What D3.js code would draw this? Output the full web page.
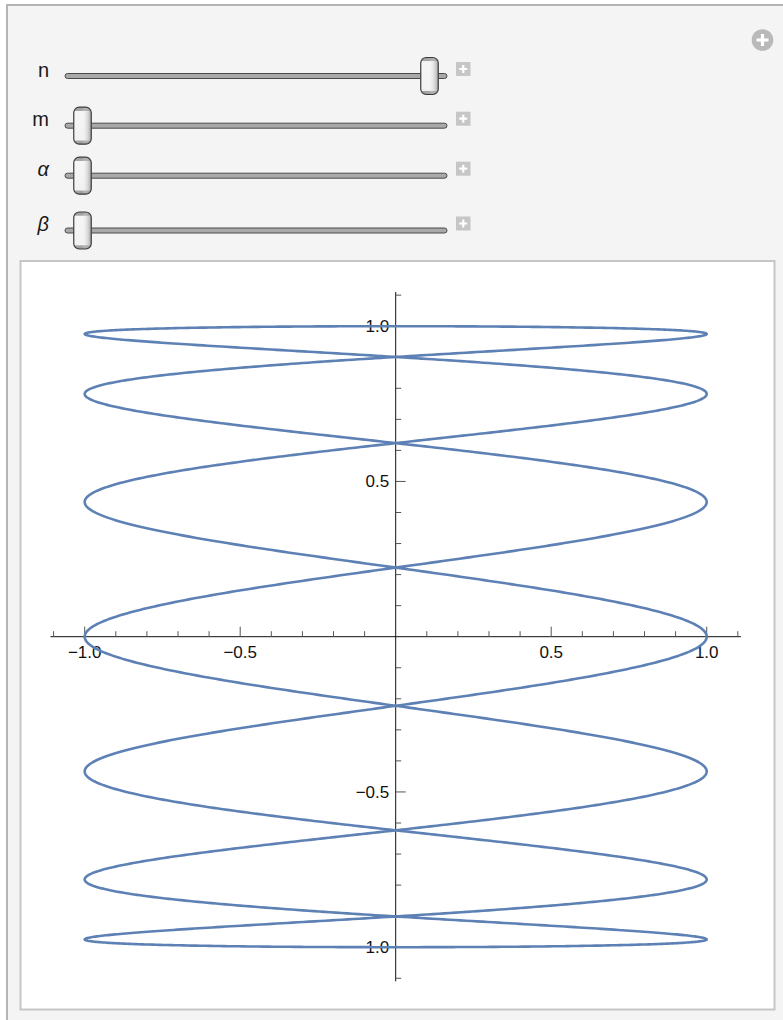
<!DOCTYPE html>
<html>
<head>
<meta charset="utf-8">
<script src="https://cdn.jsdelivr.net/npm/d3@7"></script>
<style>
  html, body { margin: 0; padding: 0; background: #ffffff; }
  svg { display: block; }
</style>
</head>
<body>
<svg id="chart" width="783" height="1020"></svg>
<script>
// Control parameters of the Lissajous figure x = cos(n t + α), y = sin(m t + β)
const paramNames  = ["n", "m", "α", "β"];
const paramItalic = [false, false, true, true];
const paramMin    = [1, 1, 0, 0];
const paramMax    = [7, 7, 2 * Math.PI, 2 * Math.PI];
const paramValue  = [7, 1, 0, 0];

// Axis ticks
const majorTicks      = [-1, -0.5, 0.5, 1];
const majorTickLabels = ["\u22121.0", "\u22120.5", "0.5", "1.0"];
const minorTicks      = [-1.1, -0.9, -0.8, -0.7, -0.6, -0.4, -0.3, -0.2, -0.1,
                          0.1, 0.2, 0.3, 0.4, 0.6, 0.7, 0.8, 0.9, 1.1];
const plotDomain      = [-1.11, 1.11];

const svg = d3.select("#chart");
const FONT = "'Liberation Sans', Arial, Helvetica, sans-serif";

// ---------- outer panel ----------
svg.append("rect").attr("x", 7).attr("y", 5).attr("width", 800).attr("height", 1030)
  .attr("fill", "#f4f4f4").attr("stroke", "#b4b4b4").attr("stroke-width", 2);

// ---------- defs for slider thumbs ----------
const defs = svg.append("defs");
const gv = defs.append("linearGradient").attr("id", "thumbV")
  .attr("x1", 0).attr("y1", 0).attr("x2", 0).attr("y2", 1);
[[0, "#9a9a9a"], [0.09, "#a8a8a8"], [0.11, "#f6f6f6"], [0.89, "#f2f2f2"], [0.91, "#a8a8a8"], [1, "#9a9a9a"]]
  .forEach(([o, c]) => gv.append("stop").attr("offset", o).attr("stop-color", c));
const gh = defs.append("linearGradient").attr("id", "thumbH")
  .attr("x1", 0).attr("y1", 0).attr("x2", 1).attr("y2", 0);
[[0, "#ffffff", 0], [0.45, "#ffffff", 0], [1, "#8c8c8c", 0.75]]
  .forEach(([o, c, a]) => gh.append("stop").attr("offset", o).attr("stop-color", c).attr("stop-opacity", a));

// ---------- sliders ----------
const trackY  = [76, 125.7, 175.7, 230.5];
const trackX0 = 65, trackX1 = 447;
const thumbW = 17.5, thumbH = 37;

const sliders = svg.append("g").attr("class", "sliders");
paramNames.forEach((name, i) => {
  const ty = trackY[i];
  const g = sliders.append("g");
  const pos = d3.scaleLinear().domain([paramMin[i], paramMax[i]]).range([82.5, 429.5]);

  g.append("text")
    .attr("x", 49).attr("y", ty + 0.5)
    .attr("text-anchor", "end")
    .attr("font-family", FONT)
    .attr("font-size", 20)
    .attr("font-style", paramItalic[i] ? "italic" : "normal")
    .attr("fill", "#1a1a1a")
    .text(name);

  g.append("rect")
    .attr("x", trackX0).attr("y", ty - 2.5)
    .attr("width", trackX1 - trackX0).attr("height", 5).attr("rx", 2.5)
    .attr("fill", "#a9a9a9").attr("stroke", "#4a4a4a").attr("stroke-width", 1);

  const cx = pos(paramValue[i]);
  g.append("rect")
    .attr("x", cx - thumbW / 2).attr("y", ty - thumbH / 2)
    .attr("width", thumbW).attr("height", thumbH).attr("rx", 5.5)
    .attr("fill", "url(#thumbV)");
  g.append("rect")
    .attr("x", cx - thumbW / 2).attr("y", ty - thumbH / 2)
    .attr("width", thumbW).attr("height", thumbH).attr("rx", 5.5)
    .attr("fill", "url(#thumbH)").attr("stroke", "#3c3c3c").attr("stroke-width", 1.2);

  // increment button
  const bx = 456, by = ty - 14;
  g.append("rect").attr("x", bx).attr("y", by).attr("width", 14.5).attr("height", 14)
    .attr("fill", "#c6c6c6");
  g.append("path")
    .attr("d", `M${bx + 7.25},${by + 3}V${by + 11}M${bx + 3.25},${by + 7}H${bx + 11.25}`)
    .attr("stroke", "#ffffff").attr("stroke-width", 2.2);
});

// options button (top right)
svg.append("circle").attr("cx", 762.5).attr("cy", 40).attr("r", 10.8).attr("fill", "#b9b9b9");
svg.append("path").attr("d", "M762.5,34V46M756.5,40H768.5")
  .attr("stroke", "#ffffff").attr("stroke-width", 3.2);

// ---------- plot frame ----------
svg.append("rect").attr("x", 20.5).attr("y", 261).attr("width", 754).attr("height", 748.5)
  .attr("fill", "#ffffff").attr("stroke", "#c6c6c6").attr("stroke-width", 2);

// ---------- scales ----------
const unitX = 311, unitY = 310.5, ox = 395.7, oy = 636.7;
const x = d3.scaleLinear().domain(plotDomain)
  .range([ox + plotDomain[0] * unitX, ox + plotDomain[1] * unitX]);
const y = d3.scaleLinear().domain(plotDomain)
  .range([oy - plotDomain[0] * unitY, oy - plotDomain[1] * unitY]);

const axes = svg.append("g").attr("class", "axes");

// x axis
axes.append("line").attr("x1", x.range()[0]).attr("x2", x.range()[1])
  .attr("y1", y(0)).attr("y2", y(0)).attr("stroke", "#111").attr("stroke-width", 1);
axes.selectAll(".xminor").data(minorTicks).join("line")
  .attr("x1", d => x(d)).attr("x2", d => x(d))
  .attr("y1", y(0)).attr("y2", y(0) - 5.5)
  .attr("stroke", "#555").attr("stroke-width", 1);
axes.selectAll(".xmajor").data(majorTicks).join("line")
  .attr("x1", d => x(d)).attr("x2", d => x(d))
  .attr("y1", y(0)).attr("y2", y(0) - 10)
  .attr("stroke", "#555").attr("stroke-width", 1);
axes.selectAll(".xlabel").data(majorTicks).join("text")
  .attr("x", d => x(d)).attr("y", y(0) + 21)
  .attr("text-anchor", "middle")
  .attr("font-family", FONT).attr("font-size", 17).attr("fill", "#111")
  .text((d, i) => majorTickLabels[i]);

// y axis
axes.append("line").attr("y1", y.range()[0]).attr("y2", y.range()[1])
  .attr("x1", x(0)).attr("x2", x(0)).attr("stroke", "#111").attr("stroke-width", 1);
axes.selectAll(".yminor").data(minorTicks).join("line")
  .attr("y1", d => y(d)).attr("y2", d => y(d))
  .attr("x1", x(0)).attr("x2", x(0) + 5.5)
  .attr("stroke", "#555").attr("stroke-width", 1);
axes.selectAll(".ymajor").data(majorTicks).join("line")
  .attr("y1", d => y(d)).attr("y2", d => y(d))
  .attr("x1", x(0)).attr("x2", x(0) + 10)
  .attr("stroke", "#555").attr("stroke-width", 1);
axes.selectAll(".ylabel").data(majorTicks).join("text")
  .attr("x", x(0) - 6.5).attr("y", d => y(d) + 6)
  .attr("text-anchor", "end")
  .attr("font-family", FONT).attr("font-size", 17).attr("fill", "#111")
  .text((d, i) => majorTickLabels[i]);

// ---------- curve ----------
const [n, m, alpha, beta] = paramValue;
const samples = d3.range(0, 2401).map(k => (k / 2400) * 2 * Math.PI);
const pts = samples.map(t => [Math.cos(n * t + alpha), Math.sin(m * t + beta)]);

svg.append("path")
  .datum(pts)
  .attr("d", d3.line().x(d => x(d[0])).y(d => y(d[1])))
  .attr("fill", "none")
  .attr("stroke", "#5e81b5")
  .attr("stroke-width", 2.6)
  .attr("stroke-linejoin", "round");
</script>
</body>
</html>
